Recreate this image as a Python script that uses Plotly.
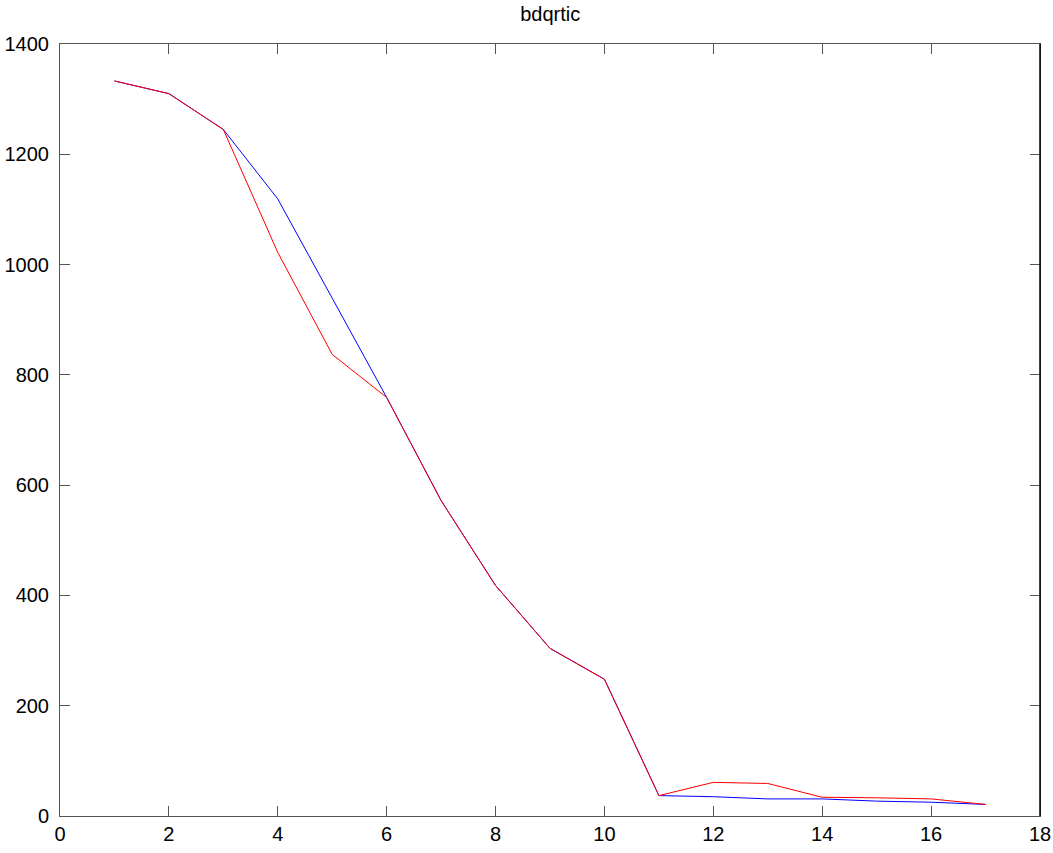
import plotly.graph_objects as go

# Iteration index and the two convergence traces
iterations = list(range(1, 18))
blue_values = [1333, 1310, 1245, 1119, 939, 759, 572, 418, 304, 248,
               37, 35, 31, 31, 27, 25, 21]
red_values = [1333, 1310, 1245, 1022, 837, 759, 572, 418, 304, 248,
              37, 61, 59, 34, 33, 31, 21]

x_ticks = [0, 2, 4, 6, 8, 10, 12, 14, 16, 18]
y_ticks = [0, 200, 400, 600, 800, 1000, 1200, 1400]

fig = go.Figure()
fig.add_trace(go.Scatter(x=iterations, y=blue_values, mode="lines",
                         line=dict(color="#0000ff", width=1), showlegend=False))
fig.add_trace(go.Scatter(x=iterations, y=red_values, mode="lines",
                         line=dict(color="#ff0000", width=1), showlegend=False))

axis_style = dict(
    showgrid=False, zeroline=False, automargin=False,
    showline=True, linecolor="#555555", linewidth=1, mirror="ticks",
    ticks="inside", ticklen=10, tickcolor="#555555", tickwidth=1,
    tickfont=dict(family="Liberation Sans, Arial, sans-serif", size=20, color="black"),
)

fig.update_xaxes(range=[0, 18], tickvals=x_ticks, ticktext=[str(v) for v in x_ticks],
                 **axis_style)
fig.update_yaxes(range=[0, 1400], tickvals=y_ticks, ticktext=[str(v) for v in y_ticks],
                 ticklabelstandoff=6, **axis_style)

# darker right-hand frame edge
fig.add_shape(type="line", xref="paper", yref="paper", x0=1, x1=1, y0=0, y1=1,
              line=dict(color="black", width=1.5))

fig.update_layout(
    width=1053, height=853,
    margin=dict(l=60, r=13, t=44, b=37),
    paper_bgcolor="white", plot_bgcolor="white",
    title=dict(text="bdqrtic", x=0.5225, xanchor="center", y=0.992, yanchor="top",
               font=dict(family="Liberation Sans, Arial, sans-serif", size=20, color="black")),
)

fig.write_html("out.html")
